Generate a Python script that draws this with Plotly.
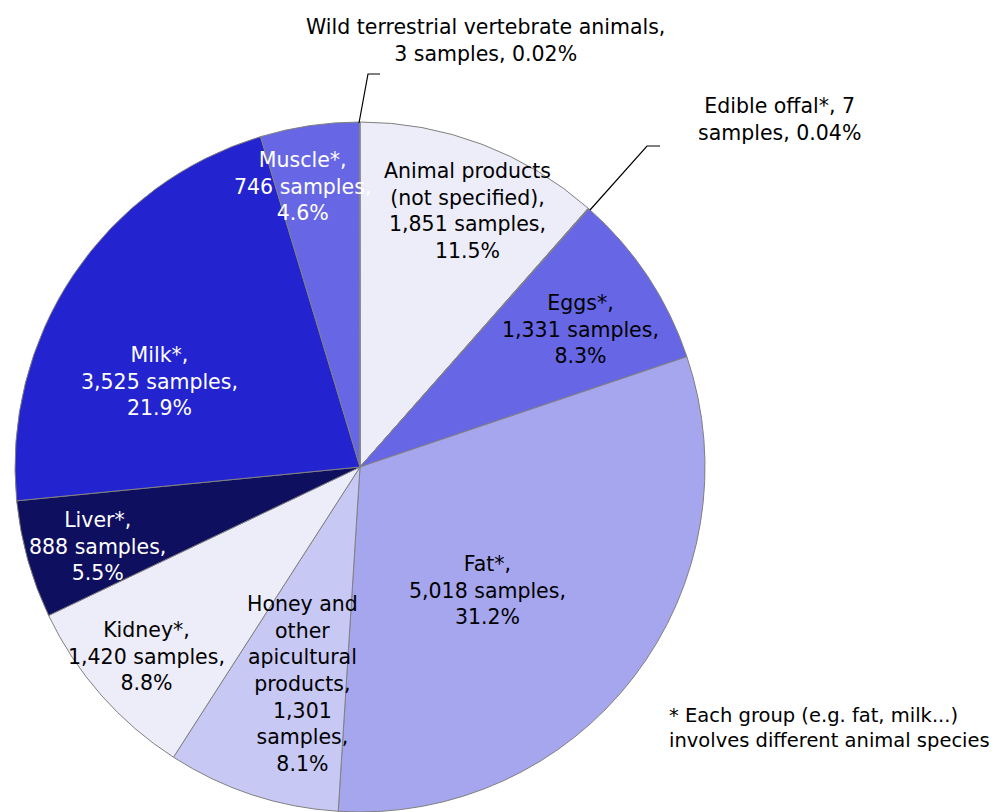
import plotly.graph_objects as go

W, H = 997, 812

categories = ["Animal products (not specified)", "Edible offal*", "Eggs*", "Fat*",
              "Honey and other apicultural products", "Kidney*", "Liver*", "Milk*",
              "Muscle*", "Wild terrestrial vertebrate animals"]
samples = [1851, 7, 1331, 5018, 1301, 1420, 888, 3525, 746, 3]
percent_labels = ["11.5%", "0.04%", "8.3%", "31.2%", "8.1%", "8.8%", "5.5%", "21.9%", "4.6%", "0.02%"]
colors = ["#EDEDFA", "#8C8CEB", "#6767E5", "#A6A6EE", "#C8C8F5", "#EDEDFA",
          "#0F0F5F", "#2323D0", "#6767E5", "#EDEDFA"]

label_texts = [
    "Animal products<br>(not specified),<br>1,851 samples,<br>11.5%",
    "Edible offal*, 7<br>samples, 0.04%",
    "Eggs*,<br>1,331 samples,<br>8.3%",
    "Fat*,<br>5,018 samples,<br>31.2%",
    "Honey and<br>other<br>apicultural<br>products,<br>1,301<br>samples,<br>8.1%",
    "Kidney*,<br>1,420 samples,<br>8.8%",
    "Liver*,<br>888 samples,<br>5.5%",
    "Milk*,<br>3,525 samples,<br>21.9%",
    "Muscle*,<br>746 samples,<br>4.6%",
    "Wild terrestrial vertebrate animals,<br>3 samples, 0.02%",
]
# label centres in pixels (x, y from top) and text colours
label_pos = [(467, 211), (779, 119), (580, 329), (487, 590), (302, 684),
             (146, 656), (97, 546), (159, 381), (302, 186), (485, 41)]
label_colors = ["black", "black", "black", "black", "black", "black",
                "white", "white", "white", "black"]

FONT = "DejaVu Sans"

fig = go.Figure()
cx, cy, r = 360, 467, 345
fig.add_trace(go.Pie(
    labels=categories,
    values=samples,
    sort=False,
    direction="clockwise",
    rotation=0,
    marker=dict(colors=colors, line=dict(color="#808080", width=1)),
    textinfo="none",
    hoverinfo="skip",
    showlegend=False,
    domain=dict(x=[(cx - r) / W, (cx + r) / W], y=[1 - (cy + r) / H, 1 - (cy - r) / H]),
))

def px(x):
    return x / W

def py(y):
    return 1 - y / H

annotations = []
for txt, (x, y), col in zip(label_texts, label_pos, label_colors):
    annotations.append(dict(
        x=px(x), y=py(y), xref="paper", yref="paper", text=txt, showarrow=False,
        xanchor="center", yanchor="middle", align="center",
        font=dict(family=FONT, size=20.5, color=col),
    ))

annotations.append(dict(
    x=px(667), y=py(728), xref="paper", yref="paper",
    text="* Each group (e.g. fat, milk...)<br>involves different animal species",
    showarrow=False, xanchor="left", yanchor="middle", align="left",
    font=dict(family=FONT, size=19.5, color="black"),
))

shapes = [
    dict(type="path", xref="paper", yref="paper",
         path=f"M {px(359)} {py(123)} L {px(368)} {py(74)} L {px(380)} {py(74)}",
         line=dict(color="black", width=1.2)),
    dict(type="path", xref="paper", yref="paper",
         path=f"M {px(590)} {py(210)} L {px(647)} {py(146)} L {px(660)} {py(146)}",
         line=dict(color="black", width=1.2)),
]

fig.update_layout(
    width=W, height=H, autosize=False,
    margin=dict(l=0, r=0, t=0, b=0),
    paper_bgcolor="white", plot_bgcolor="white",
    annotations=annotations, shapes=shapes,
    font=dict(family=FONT),
)

fig.write_html(
    "out.html",
    config={"displayModeBar": False},
    post_script="document.body.style.margin='0';document.body.style.overflow='hidden';",
)
